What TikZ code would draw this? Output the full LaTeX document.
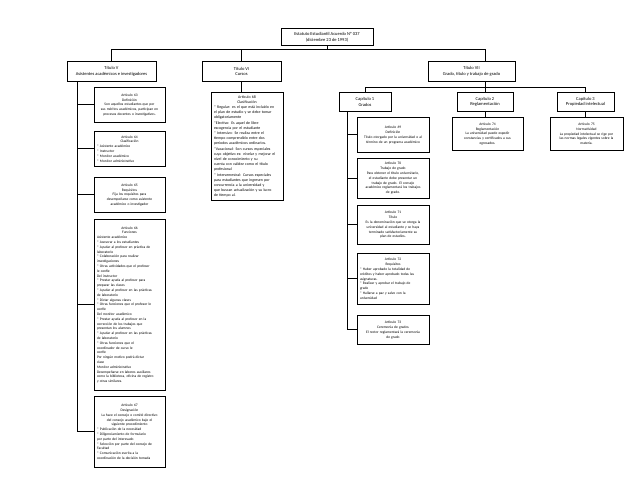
\documentclass[tikz,border=0pt]{standalone}
\usepackage{fontspec}
\setmainfont{Carlito}
\newcommand{\arthead}[2]{{\centering #1\\#2\par}\raggedright}
\begin{document}
\begin{tikzpicture}[x=1pt,y=-1pt,
  box/.style={draw, line width=0.9pt, anchor=north},
  ttl/.style={box, align=center, inner sep=1pt, font=\fontsize{4.5}{5.6}\selectfont},
  artbase/.style={box, inner xsep=3pt, inner ysep=2pt, font=\fontsize{3.6}{4.8}\selectfont},
  art/.style={artbase, align=center},
  artm/.style={artbase},
  con/.style={line width=1pt}]
\useasboundingbox[fill=white] (0,0) rectangle (638,493);

% root and titles
\node[ttl, minimum width=92, minimum height=17] (root) at (327,28) {Estatuto Estudiantil Acuerdo Nº 037\\(diciembre 23 de 1993)};
\node[ttl, minimum width=89, minimum height=20] (t5) at (111.5,61) {Título V\\Asistentes académicos e investigadores};
\node[ttl, minimum width=79, minimum height=20] (t6) at (241.5,61) {Título VI\\Cursos};
\node[ttl, minimum width=87, minimum height=20] (t7) at (471.5,61) {Título VII\\Grado, título y trabajo de grado};

% chapters
\node[ttl, minimum width=52, minimum height=19] (c1) at (365,92) {Capítulo 1\\Grados};
\node[ttl, minimum width=56, minimum height=19] (c2) at (485,92) {Capítulo 2\\Reglamentación};
\node[ttl, minimum width=57, minimum height=19] (c3) at (585.5,92) {Capítulo 3\\Propiedad intelectual};

% Title V articles
\node[art, text width=65, minimum height=35] (a63) at (129.5,87) {Artículo 63\\Definición\\Son aquellos estudiantes que por\\sus méritos académicos, participan en\\procesos docentes o investigativos.};
\node[artm, text width=65, minimum height=35] (a64) at (129.5,131) {\arthead{Artículo 64}{Clasificación}{}* Asistente académico\\{}* Instructor\\{}* Monitor académico\\{}* Monitor administrativo};
\node[art, text width=65, minimum height=35] (a65) at (129.5,177) {Artículo 65\\Requisitos\\Fija los requisitos para\\desempeñarse como asistente\\académico o investigador};
\node[artm, text width=65, minimum height=171] (a66) at (129.5,219) {\arthead{Artículo 66}{Funciones}Asistente académico\\{}* Asesorar a los estudiantes\\{}* Ayudar al profesor en práctica de\\laboratorio\\{}* Colaboración para realizar\\investigaciones\\{}* Otras actividades que el profesor\\le confíe\\Del instructor\\{}* Prestar ayuda al profesor para\\preparar las clases\\{}* Ayudar al profesor en las prácticas\\de laboratorio\\{}* Dictar algunas clases\\{}* Otras funciones que el profesor le\\confíe\\Del monitor académico\\{}* Prestar ayuda al profesor en la\\corrección de los trabajos que\\presentan los alumnos\\{}* Ayudar al profesor en las prácticas\\de laboratorio\\{}* Otras funciones que el\\coordinador de curso le\\confíe\\Por ningún motivo podrá dictar\\clase\\Monitor administrativo\\Desempeñarse en labores auxiliares\\como la biblioteca, oficina de registro\\y otras similares.};
\node[artm, text width=65, minimum height=71] (a67) at (129.5,396) {{\centering Artículo 67\\Designación\\La hace el consejo o comité directivo\\del consejo académico bajo el\\siguiente procedimiento\par}\raggedright{}* Publicación de la necesidad\\{}* Diligenciamiento de formulario\\por parte del interesado\\{}* Selección por parte del consejo de\\Facultad\\{}* Comunicación escrita a la\\coordinación de la decisión tomada};

% Title VI article
\node[artm, text width=66, minimum height=108, font=\fontsize{3.9}{5.2}\selectfont] (a68) at (247,92) {\arthead{Artículo 68}{Clasificación}{}* Regular: es el que está incluido en\\el plan de estudio y se debe tomar\\obligatoriamente\\{}*Electivo: Es aquel de libre\\escogencia por el estudiante\\{}* Intensivo: Se realiza entre el\\tiempo comprendido entre dos\\periodos académicos ordinarios.\\{}*Vacacional: Son cursos especiales\\cuyo objetivo es: nivelar y mejorar el\\nivel de conocimiento y su\\cuenta con validez como el título\\profesional\\{}* Intersemestral: Cursos especiales\\para estudiantes que ingresen por\\concurrencia a la universidad y\\que buscan actualización y su lucro\\de tiempo al.};

% Chapter 1 articles
\node[art, text width=66, minimum height=35] (a69) at (393,117) {Artículo 69\\Definición\\Título otorgado por la universidad o al\\término de un programa académico};
\node[art, text width=66, minimum height=40] (a70) at (393,158) {Artículo 70\\Trabajo de grado\\Para obtener el título universitario,\\el estudiante debe presentar un\\trabajo de grado. El consejo\\académico reglamentará los trabajos\\de grado.};
\node[art, text width=66, minimum height=39] (a71) at (393,205) {Artículo 71\\Título\\Es la denominación que se otorga la\\universidad al estudiante y se haya\\terminado satisfactoriamente su\\plan de estudios.};
\node[artm, text width=66, minimum height=51] (a72) at (393,253) {\arthead{Artículo 72}{Requisitos}{}* Haber aprobado la totalidad de\\créditos y haber aprobado todas las\\asignaturas.\\{}* Realizar y aprobar el trabajo de\\grado\\{}* Hallarse a paz y salvo con la\\universidad};
\node[art, text width=66, minimum height=29] (a73) at (393,315) {Artículo 73\\Ceremonia de grados\\El rector reglamentará la ceremonia\\de grado};

% Chapter 2 and 3 articles
\node[art, text width=65, minimum height=33] (a74) at (487.5,117) {Artículo 74\\Reglamentación\\La universidad puede expedir\\constancias y certificados a sus\\egresados.};
\node[art, text width=67, minimum height=33] (a75) at (586.5,117) {Artículo 75\\Normatividad\\La propiedad intelectual se rige por\\las normas legales vigentes sobre la\\materia.};

% connectors: top level
\coordinate (bar) at (0,49);
\draw[con] (root.south) -- (root.south |- bar);
\draw[con] (t5.north |- bar) -- (bar -| c2.north);
\draw[con] (t5.north) -- (t5.north |- bar);
\draw[con] (t6.north) -- (t6.north |- bar);
\draw[con] (bar -| c2.north) -- (t7.north -| c2.north);

% Title V spine
\coordinate (sp5) at (77,0);
\draw[con] (t5.south -| sp5) -- (a67.west -| sp5);
\foreach \n in {a63,a64,a65,a66,a67} \draw[con] (\n.west -| sp5) -- (\n.west);

% Title VI
\draw[con] (t6.south) -- (t6.south |- a68.north);

% Title VII
\coordinate (bar2) at (0,87);
\draw[con] (t7.south -| c2.north) -- (c2.north);
\draw[con] (c1.north) -- (c1.north |- bar2) -- (c3.north |- bar2) -- (c3.north);
\draw[con] (c2.south) -- (c2.south |- a74.north);
\draw[con] (c3.south) -- (c3.south |- a75.north);

% Chapter 1 spine
\coordinate (sp1) at (347,0);
\draw[con] (c1.south -| sp1) -- (a73.west -| sp1);
\foreach \n in {a69,a70,a71,a72,a73} \draw[con] (\n.west -| sp1) -- (\n.west);
\end{tikzpicture}
\end{document}
